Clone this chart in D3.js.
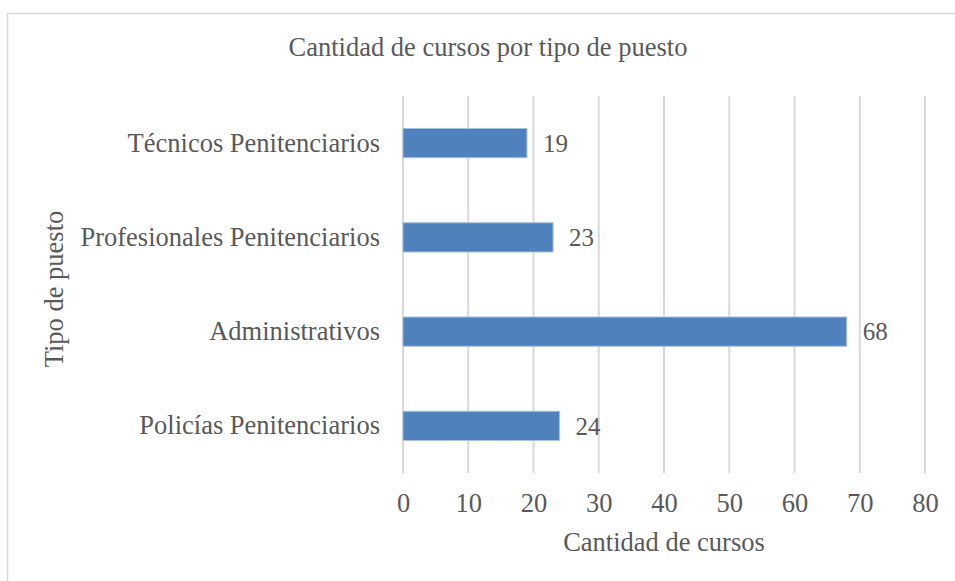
<!doctype html>
<html>
<head>
    <meta charset="utf-8">
    <style>
        body { margin: 0; background: #fff; }
        text { font-family: "Liberation Serif", "Times New Roman", serif; fill: #595959; }
        .bar { fill: #4f81bd; stroke: #a7c0de; stroke-width: 1; }
        .grid line { stroke: #d9d9d9; stroke-width: 2; }
    </style>
    <script src="https://d3js.org/d3.v7.min.js"></script>
</head>
<body>
<svg width="955" height="581"></svg>
<script>

    var categories = ["Técnicos Penitenciarios", "Profesionales Penitenciarios", "Administrativos", "Policías Penitenciarios"];
    var values = [19, 23, 68, 24];
    var xTicks = [0, 10, 20, 30, 40, 50, 60, 70, 80];

    var svg = d3.select("svg");

    // chart frame, cut off at right and bottom like the original
    svg.append("rect")
       .attr("x", 7.5)
       .attr("y", 13.5)
       .attr("width", 1000)
       .attr("height", 1000)
       .attr("fill", "none")
       .attr("stroke", "#d9d9d9")
       .attr("stroke-width", 1.5);

    var plotLeft = 403, plotRight = 925, plotTop = 96, plotBottom = 473;
    var fontSize = "26.5px";

    var xScale = d3.scaleLinear().domain([0, 80]).range([plotLeft, plotRight]);
    var yScale = d3.scaleBand().domain(categories).range([plotTop, plotBottom])
                   .paddingInner(0.69).paddingOuter(0.345);

    // vertical gridlines
    svg.append("g")
       .attr("class", "grid")
       .selectAll("line")
       .data(xTicks)
       .enter().append("line")
       .attr("x1", function(d) { return xScale(d); })
       .attr("x2", function(d) { return xScale(d); })
       .attr("y1", plotTop)
       .attr("y2", plotBottom);

    // x axis labels only, no line
    var xAxis = svg.append("g")
       .attr("transform", "translate(0," + plotBottom + ")")
       .call(d3.axisBottom(xScale).tickValues(xTicks).tickSize(0).tickPadding(20));
    xAxis.select(".domain").remove();
    xAxis.selectAll("text")
         .attr("font-size", fontSize)
         .attr("font-family", "Liberation Serif")
         .attr("fill", "#595959");

    var yAxis = svg.append("g")
       .attr("transform", "translate(" + plotLeft + ",0)")
       .call(d3.axisLeft(yScale).tickSize(0).tickPadding(23));
    yAxis.select(".domain").remove();
    yAxis.selectAll("text")
         .attr("font-size", fontSize)
         .attr("font-family", "Liberation Serif")
         .attr("fill", "#595959");

    svg.selectAll(".bar")
       .data(values)
       .enter().append("rect")
       .attr("class", "bar")
       .attr("x", xScale(0))
       .attr("y", function(d, i) { return yScale(categories[i]); })
       .attr("width", function(d) { return xScale(d) - xScale(0); })
       .attr("height", yScale.bandwidth());

    svg.selectAll(".label")
       .data(values)
       .enter().append("text")
       .attr("class", "label")
       .attr("x", function(d) { return xScale(d) + 16; })
       .attr("y", function(d, i) { return yScale(categories[i]) + yScale.bandwidth() / 2; })
       .attr("dy", "0.35em")
       .attr("font-size", "25px")
       .text(function(d) { return d; });

    svg.append("text")
       .attr("x", 488)
       .attr("y", 56)
       .attr("text-anchor", "middle")
       .attr("font-size", fontSize)
       .text("Cantidad de cursos por tipo de puesto");

    svg.append("text")
       .attr("x", 664)
       .attr("y", 551)
       .attr("text-anchor", "middle")
       .attr("font-size", fontSize)
       .text("Cantidad de cursos");

    svg.append("text")
       .attr("transform", "translate(63,289) rotate(-90)")
       .attr("text-anchor", "middle")
       .attr("font-size", fontSize)
       .text("Tipo de puesto");
</script>
</body>
</html>
